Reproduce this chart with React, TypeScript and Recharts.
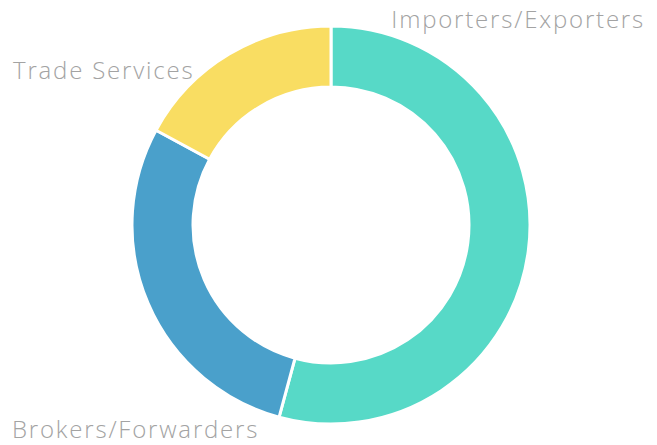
import { PieChart, Pie, Cell } from "recharts";

// ---------------------------------------------------------------------------
// Data
// ---------------------------------------------------------------------------

const categories = ["Importers/Exporters", "Brokers/Forwarders", "Trade Services"];
const shares = [54.2, 28.7, 17.1];
const colors = ["#57d9c7", "#4aa0cb", "#f9dd62"];

// label anchor offsets from the pie centre (layout only)
const labelLayout = [
  { dx: 314, dy: -197, anchor: "end" },
  { dx: -319, dy: 213, anchor: "start" },
  { dx: -318, dy: -146, anchor: "start" },
];

const data = categories.map((name, i) => ({ name, value: shares[i] }));

// ---------------------------------------------------------------------------
// Component
// ---------------------------------------------------------------------------

const renderLabel = (props: any) => {
  const { cx, cy, index, name } = props;
  const l = labelLayout[index];
  return (
    <text
      x={cx + l.dx}
      y={cy + l.dy}
      textAnchor={l.anchor}
      fill="#a3a3a3"
      fontSize={24}
      fontWeight={300}
      fontFamily="'Open Sans', sans-serif"
      style={{ letterSpacing: 1.8 }}
    >
      {name}
    </text>
  );
};

export default function App() {
  return (
    <div style={{ position: "absolute", left: 0, top: 0, width: 657, height: 445 }}>
      <PieChart width={657} height={445} margin={{ top: 0, right: 0, bottom: 0, left: 0 }}>
        <Pie
          data={data}
          dataKey="value"
          nameKey="name"
          cx={331}
          cy={225}
          innerRadius={138}
          outerRadius={199}
          startAngle={90}
          endAngle={-270}
          stroke="#ffffff"
          strokeWidth={3}
          label={renderLabel}
          labelLine={false}
          isAnimationActive={false}
        >
          {data.map((d, i) => (
            <Cell key={d.name} fill={colors[i]} />
          ))}
        </Pie>
      </PieChart>
    </div>
  );
}
